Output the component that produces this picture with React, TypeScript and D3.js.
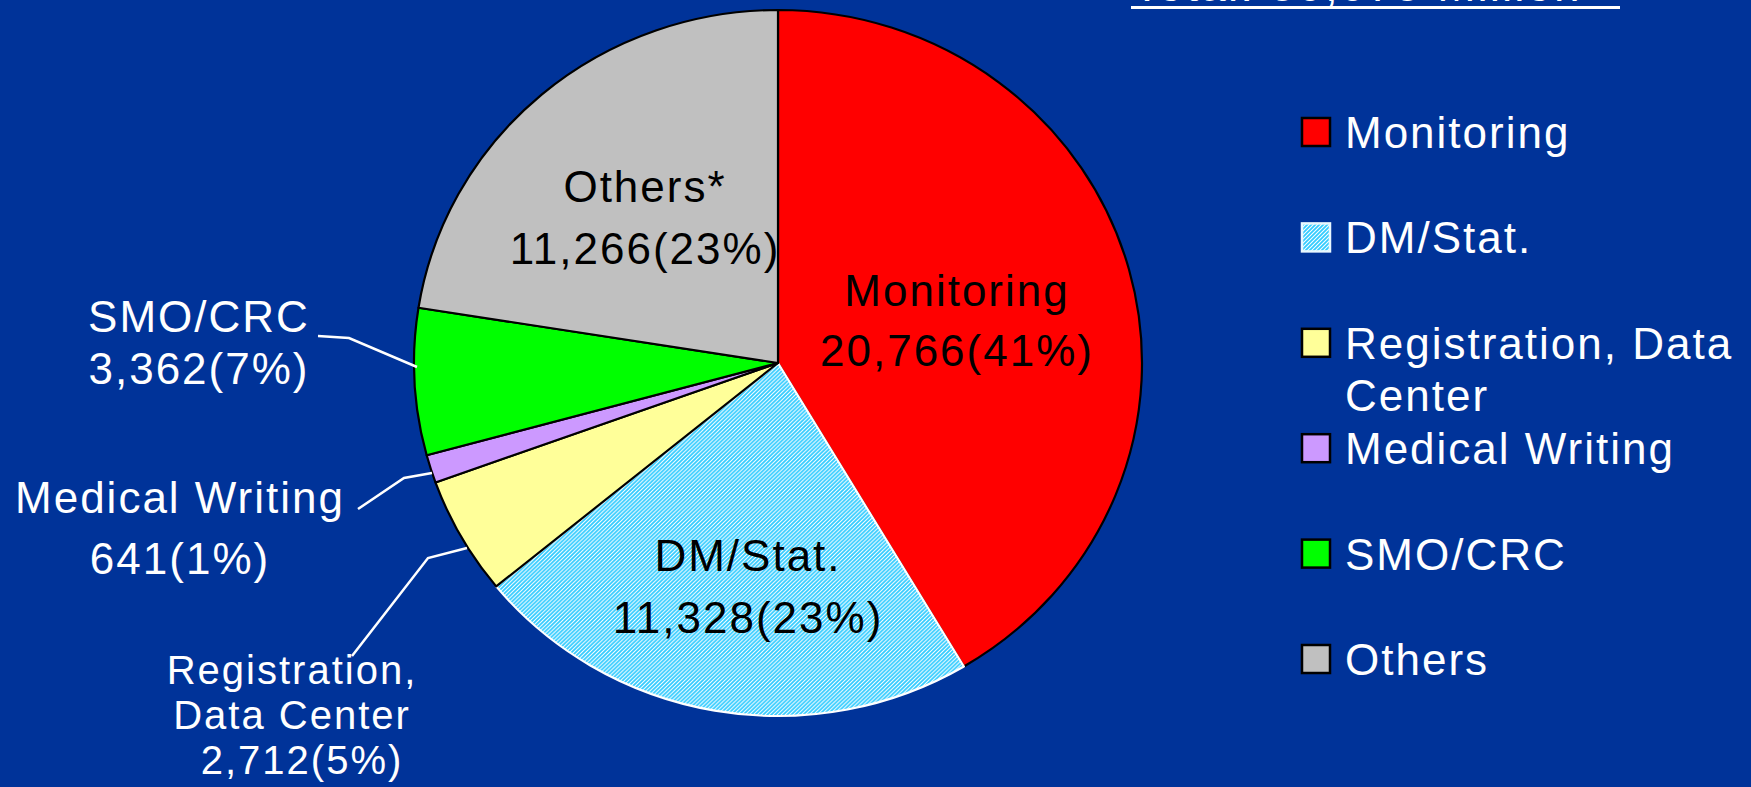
import * as d3 from 'd3';

const categories = ['Monitoring', 'DM/Stat.', 'Registration, Data Center', 'Medical Writing', 'SMO/CRC', 'Others'];
const values = [20766, 11328, 2712, 641, 3362, 11266];
const percents = ['41%', '23%', '5%', '1%', '7%', '23%'];
const legendLines = [['Monitoring'], ['DM/Stat.'], ['Registration, Data', 'Center'], ['Medical Writing'], ['SMO/CRC'], ['Others']];
const sliceLabels = [['Monitoring'], ['DM/Stat.'], ['Registration,', 'Data Center'], ['Medical Writing'], ['SMO/CRC'], ['Others*']];
const titleText = 'Total: 50,075 Million';

const W = 1751;
const H = 787;
const BG = '#003399';
const FONT = '"Liberation Sans", Arial, sans-serif';
const fills = ['#ff0000', 'url(#dm-hatch)', '#ffff99', '#cc99ff', '#00ff00', '#c0c0c0'];
const strokes = ['#000', '#fff', '#000', '#000', '#000', '#000'];

// label layout (centre x, first baseline, font size, line gap, text colour)
const labelLayout = [
  { x: 957, y: 306, fs: 44, gap: 60, color: '#000' },
  { x: 748, y: 571, fs: 44, gap: 62, color: '#000' },
  { x: 292, y: 684, fs: 40, gap: 45, color: '#fff' },
  { x: 180, y: 513, fs: 44, gap: 61, color: '#fff' },
  { x: 199, y: 332, fs: 44, gap: 52, color: '#fff' },
  { x: 645, y: 202, fs: 44, gap: 62, color: '#000' },
];
const leaders: Record<number, [number, number][]> = {
  2: [[352, 656], [428, 558], [467, 548]],
  3: [[358, 509], [404, 478], [432, 473]],
  4: [[318, 336], [349, 338], [417, 367]],
};

const fmt = d3.format(',');

export default function App() {
  const cx = 778;
  const cy = 363;
  const rx = 364;
  const ry = 353;

  const pie = d3.pie<number>().sort(null).value(d => d);
  const arcs = pie(values);
  const arc = d3.arc<d3.PieArcDatum<number>>().innerRadius(0).outerRadius(rx);

  const line = d3.line();

  return (
    <svg width={W} height={H} style={{ position: 'absolute', left: 0, top: 0, display: 'block' }}>
      <defs>
        <pattern id="dm-hatch" width={4} height={4} patternUnits="userSpaceOnUse">
          <rect width={4} height={4} fill="#ffffff" />
          <path d="M-1,1 L1,-1 M0,4 L4,0 M3,5 L5,3" stroke="#33ccff" strokeWidth={1.8} />
        </pattern>
      </defs>
      <rect width={W} height={H} fill={BG} />

      {/* title sits mostly above the top edge, as in the source slide */}
      <text x={1133} y={1} fill="#fff" fontFamily={FONT} fontSize={46} letterSpacing={2}>{titleText}</text>
      <rect x={1131} y={6} width={489} height={3} fill="#fff" />

      <g transform={`translate(${cx},${cy}) scale(1,${ry / rx})`}>
        {arcs.map((a, i) => (
          <path key={categories[i]} d={arc(a) || ''} fill={fills[i]} stroke={strokes[i]} strokeWidth={2.2} strokeLinejoin="round" />
        ))}
      </g>

      {Object.entries(leaders).map(([k, pts]) => (
        <path key={k} d={line(pts) || ''} fill="none" stroke="#fff" strokeWidth={2.5} />
      ))}

      {labelLayout.map((l, i) => {
        const lines = [...sliceLabels[i], `${fmt(values[i])}(${percents[i]})`];
        return (
          <text key={i} fill={l.color} fontFamily={FONT} fontSize={l.fs} letterSpacing={2} textAnchor="middle">
            {lines.map((t, j) => (
              <tspan key={j} x={j === lines.length - 1 && i === 2 ? l.x + 10 : l.x} y={l.y + j * l.gap}>{t}</tspan>
            ))}
          </text>
        );
      })}

      {legendLines.map((lines, i) => {
        const rowY = 132 + i * 105.4;
        return (
          <g key={categories[i]}>
            <rect x={1302} y={rowY - 14} width={28} height={28} fill={fills[i]} stroke={strokes[i] === '#fff' ? '#e8f8ff' : '#000'} strokeWidth={2.5} />
            <text fill="#fff" fontFamily={FONT} fontSize={44} letterSpacing={2}>
              {lines.map((t, j) => (
                <tspan key={j} x={1345} y={rowY + 16 + j * 52}>{t}</tspan>
              ))}
            </text>
          </g>
        );
      })}
    </svg>
  );
}
